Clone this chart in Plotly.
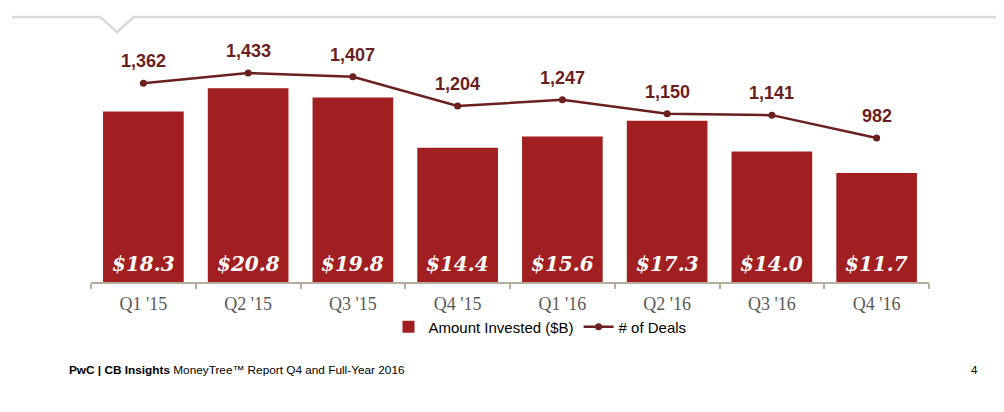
import plotly.graph_objects as go

quarters = ["Q1 '15", "Q2 '15", "Q3 '15", "Q4 '15", "Q1 '16", "Q2 '16", "Q3 '16", "Q4 '16"]
amount_invested = [18.3, 20.8, 19.8, 14.4, 15.6, 17.3, 14.0, 11.7]
num_deals = [1362, 1433, 1407, 1204, 1247, 1150, 1141, 982]

BAR_COLOR = "#A11F21"
LINE_COLOR = "#6B1F1F"

fig = go.Figure()
fig.add_trace(go.Bar(
    x=quarters, y=amount_invested, name="Amount Invested ($B)",
    marker=dict(color=BAR_COLOR, line=dict(width=0)),
))
fig.add_trace(go.Scatter(
    x=quarters, y=num_deals, name="# of Deals", yaxis="y2",
    mode="lines+markers",
    line=dict(color=LINE_COLOR, width=2.5),
    marker=dict(color=LINE_COLOR, size=7),
))

# plot area in window pixels: x 91..929, y 49..282
def px_x(px):
    return (px - 91) / 838.0

def px_y(py):
    return (282 - py) / 233.0

shapes = [
    dict(type="path", xref="paper", yref="paper",
         path=f"M {px_x(12)} {px_y(17)} L {px_x(100)} {px_y(17)} L {px_x(117)} {px_y(32)} L {px_x(134)} {px_y(17)} L {px_x(1010)} {px_y(17)}",
         line=dict(color="#D9D9D9", width=2.5)),
]

annotations = []
for q, v in zip(quarters, amount_invested):
    annotations.append(dict(
        x=q, y=0, xref="x", yref="y", yanchor="middle", yshift=18, showarrow=False,
        text=f"<b><i>${v:.1f}</i></b>",
        font=dict(family="DejaVu Serif", size=20, color="white")))
for q, n in zip(quarters, num_deals):
    annotations.append(dict(
        x=q, y=n, xref="x", yref="y2", yanchor="middle", yshift=22, showarrow=False,
        text=f"<b>{n:,}</b>",
        font=dict(family="Liberation Sans, Arial", size=18, color=LINE_COLOR)))

annotations += [
    dict(xref="paper", yref="paper", x=px_x(67), y=px_y(370), xanchor="left", yanchor="middle",
         showarrow=False,
         text="<b>PwC | CB Insights</b> MoneyTree™ Report Q4 and Full-Year 2016",
         font=dict(family="Liberation Sans, Arial", size=11.8, color="black")),
    dict(xref="paper", yref="paper", x=px_x(975), y=px_y(370), xanchor="center", yanchor="middle",
         showarrow=False, text="4",
         font=dict(family="Liberation Sans, Arial", size=11.5, color="black")),
]

fig.update_layout(
    width=996, height=404,
    margin=dict(l=83, r=75, t=41, b=130),
    paper_bgcolor="white", plot_bgcolor="white",
    bargap=0.23,
    showlegend=True,
    legend=dict(orientation="h", x=px_x(540), y=px_y(327), xanchor="center", yanchor="middle",
                font=dict(family="Liberation Sans, Arial", size=15, color="black"),
                itemwidth=30, tracegroupgap=0, bgcolor="rgba(0,0,0,0)"),
    xaxis=dict(
        type="category", showgrid=False, showline=True, linecolor="#B5AC9E", linewidth=1.5,
        ticks="outside", tickson="boundaries", ticklen=5, tickcolor="#B5AC9E", tickwidth=1.5,
        ticklabelstandoff=5,
        tickfont=dict(family="Liberation Serif, DejaVu Serif", size=18, color="#595959"),
        range=[-0.5, 7.5],
    ),
    yaxis=dict(range=[0, 25], visible=False, showgrid=False, zeroline=False, fixedrange=True),
    yaxis2=dict(range=[-17, 1600], overlaying="y", side="right", visible=False, showgrid=False, zeroline=False),
    shapes=shapes,
    annotations=annotations,
    font=dict(family="Liberation Sans, Arial"),
)

fig.write_html("out.html")
